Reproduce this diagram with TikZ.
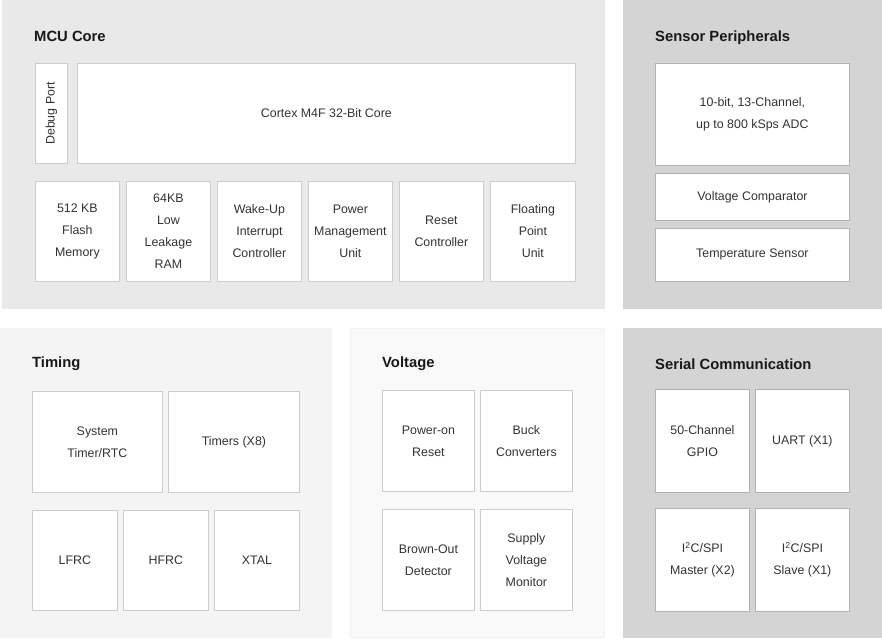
\documentclass[tikz,border=0pt]{standalone}
\usepackage{fontspec}
\setmainfont{Liberation Sans}
\begin{document}
\begin{tikzpicture}[x=1pt,y=-1pt,
  title/.style={anchor=west,font=\fontsize{14.8}{16}\selectfont\bfseries,text=black!90,inner sep=0pt},
  blk/.style={draw=#1,fill=white,line width=0.8pt,anchor=north west,inner sep=0pt,
    align=center,text=black!80,font=\fontsize{12.4}{22}\selectfont},
  blk/.default={black!20}]
\useasboundingbox (0,0) rectangle (882,638);
% panels
\fill[black!8.5] (2,0) rectangle (605,309);
\fill[black!17] (623,0) rectangle (882,309);
\fill[black!4.5] (0,328) rectangle (332,638);
\filldraw[fill=black!2.5,draw=black!5] (350.5,328.5) rectangle (604.5,637.5);
\fill[black!17] (623,328) rectangle (882,638);
% titles
\node[title] (t1) at (34,36.5) {MCU Core};
\node[title] (t2) at (655,37.5) {Sensor Peripherals};
\node[title] (t3) at (32,364) {Timing};
\node[title] (t4) at (382,364) {Voltage};
\node[title] (t5) at (655,364) {Serial Communication};
% MCU core
\node[blk,minimum width=32,minimum height=100] (dbg) at (35,63) {};
\node[rotate=90,text=black!80,font=\fontsize{12.4}{14}\selectfont] (dbgt) at (dbg.center) {Debug Port};
\node[blk,minimum width=498,minimum height=100] (cortex) at (77,63) {Cortex M4F 32-Bit Core};
\node[blk,minimum width=84,minimum height=100] (flash) at (35,181) {512 KB\\Flash\\Memory};
\node[blk,minimum width=84,minimum height=100] (ram) at (126,181) {64KB\\Low\\Leakage\\RAM};
\node[blk,minimum width=84,minimum height=100] (wic) at (217,181) {Wake-Up\\Interrupt\\Controller};
\node[blk,minimum width=84,minimum height=100] (pmu) at (308,181) {Power\\Management\\Unit};
\node[blk,minimum width=84,minimum height=100] (rst) at (399,181) {Reset\\Controller};
\node[blk,minimum width=85,minimum height=100] (fpu) at (490,181) {Floating\\Point\\Unit};
% Sensor
\node[blk=black!30,minimum width=194,minimum height=102] (adc) at (655,63) {10-bit, 13-Channel,\\up to 800 kSps ADC};
\node[blk=black!30,minimum width=194,minimum height=47] (cmp) at (655,173) {Voltage Comparator};
\node[blk=black!30,minimum width=194,minimum height=53] (temp) at (655,228) {Temperature Sensor};
% Timing
\node[blk,minimum width=130,minimum height=101] (sys) at (32,391) {System\\Timer/RTC};
\node[blk,minimum width=131,minimum height=101] (tim) at (168,391) {Timers (X8)};
\node[blk,minimum width=85,minimum height=100] (lfrc) at (32,510) {LFRC};
\node[blk,minimum width=85,minimum height=100] (hfrc) at (123,510) {HFRC};
\node[blk,minimum width=85,minimum height=100] (xtal) at (214,510) {XTAL};
% Voltage
\node[blk,minimum width=92,minimum height=101] (por) at (382,390) {Power-on\\Reset};
\node[blk,minimum width=92,minimum height=101] (buck) at (480,390) {Buck\\Converters};
\node[blk,minimum width=92,minimum height=101] (bod) at (382,509) {Brown-Out\\Detector};
\node[blk,minimum width=92,minimum height=101] (svm) at (480,509) {Supply\\Voltage\\Monitor};
% Serial
\node[blk=black!30,minimum width=94,minimum height=103] (gpio) at (655,389) {50-Channel\\GPIO};
\node[blk=black!30,minimum width=94,minimum height=103] (uart) at (755,389) {UART (X1)};
\node[blk=black!30,minimum width=94,minimum height=103] (i2cm) at (655,508) {I\textsuperscript{2}C/SPI\\Master (X2)};
\node[blk=black!30,minimum width=94,minimum height=103] (i2cs) at (755,508) {I\textsuperscript{2}C/SPI\\Slave (X1)};
\end{tikzpicture}
\end{document}
